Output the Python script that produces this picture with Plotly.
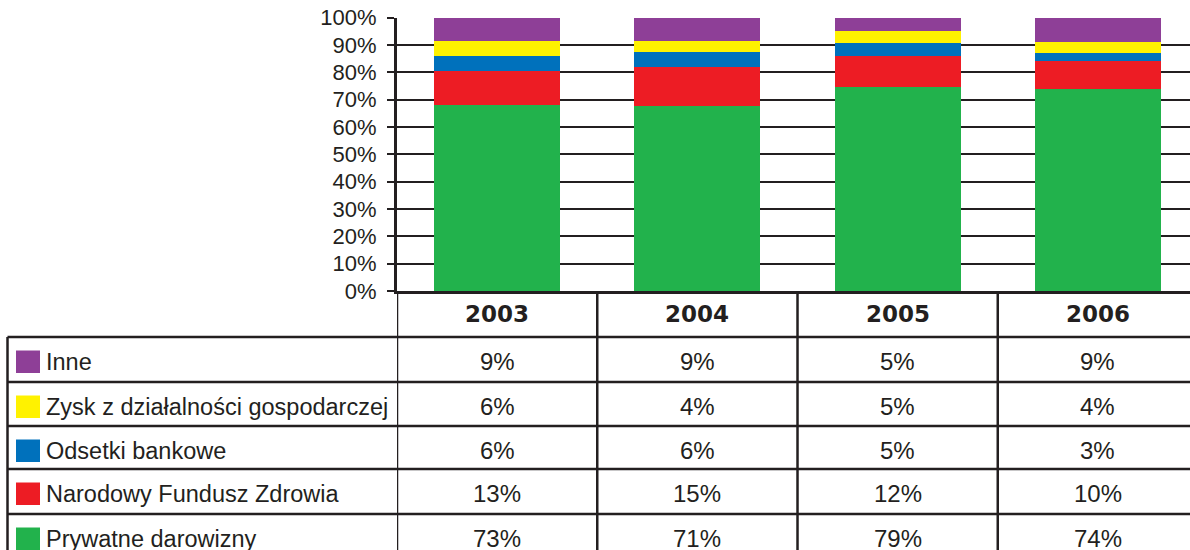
import plotly.graph_objects as go

# -----------------------------------------------------
# 데이터
# -----------------------------------------------------
years = ['2003', '2004', '2005', '2006']
series_names = ['Prywatne darowizny', 'Narodowy Fundusz Zdrowia', 'Odsetki bankowe',
                'Zysk z działalności gospodarczej', 'Inne']
prywatne = [73, 71, 79, 74]
nfz = [13, 15, 12, 10]
odsetki = [6, 6, 5, 3]
zysk = [6, 4, 5, 4]
inne = [9, 9, 5, 9]
colors = ['#22b24c', '#ed1c24', '#0071bc', '#fff200', '#8e3f97']
y_ticks = list(range(0, 101, 10))

values = [prywatne, nfz, odsetki, zysk, inne]

W, H = 1190, 550
INK = '#231f20'


def py(pix):
    """pixel row -> paper y"""
    return 1 - pix / H


def px_(pix):
    return pix / W


fig = go.Figure()
for name, vals, col in zip(series_names, values, colors):
    fig.add_trace(go.Bar(x=years, y=vals, name=name, marker_color=col,
                         marker_line_width=0, hoverinfo='name+y'))

fig.update_layout(
    width=W, height=H, barmode='stack', barnorm='percent', bargap=0.37,
    showlegend=False, plot_bgcolor='white', paper_bgcolor='white',
    margin=dict(l=0, r=0, t=0, b=0),
    font=dict(family='Liberation Sans, Arial, sans-serif', color=INK),
)
fig.update_xaxes(type='category', domain=[px_(397), 1], range=[-0.5, 3.46],
                 showticklabels=False, showline=True, linecolor=INK, linewidth=3,
                 ticks='', showgrid=False, automargin=False, fixedrange=True)
fig.update_yaxes(domain=[py(291), py(17.7)], range=[0, 100], tickvals=y_ticks,
                 ticktext=[f'{t}%' for t in y_ticks], ticks='outside', ticklen=7,
                 tickwidth=2, tickcolor=INK, showline=True, linecolor=INK, linewidth=3,
                 showgrid=True, gridcolor=INK, gridwidth=2, zeroline=False,
                 tickfont=dict(size=22, color=INK), ticklabelstandoff=6,
                 automargin=False, fixedrange=True)

# -----------------------------------------------------
# 표 (데이터 테이블)
# -----------------------------------------------------
row_lines = [337, 382, 426, 469, 514]
row_h = 44
bottom = 560
lw = 2.5

shapes = []
for yl in row_lines:
    shapes.append(dict(type='line', xref='paper', yref='paper', x0=px_(7.5), x1=1,
                       y0=py(yl), y1=py(yl), line=dict(color=INK, width=lw)))
# 세로선
shapes.append(dict(type='line', xref='paper', yref='paper', x0=px_(7.5), x1=px_(7.5),
                   y0=py(337), y1=py(bottom), line=dict(color=INK, width=lw)))
for xv in [-0.5, 0.5, 1.5, 2.5]:
    shapes.append(dict(type='line', xref='x', yref='paper', x0=xv, x1=xv,
                       y0=py(291), y1=py(bottom), line=dict(color=INK, width=lw)))

annotations = []
# 헤더 (연도)
for i, yr in enumerate(years):
    annotations.append(dict(x=i, xref='x', y=py(314), yref='paper', text=f'<b>{yr}</b>',
                            showarrow=False, xanchor='center', yanchor='middle',
                            font=dict(family='DejaVu Sans', size=23, color=INK)))

# 행: 위에서부터 Inne ... Prywatne
table_order = list(range(len(series_names)))[::-1]
for r, si in enumerate(table_order):
    yc = row_lines[r] + row_h / 2
    shapes.append(dict(type='rect', xref='paper', yref='paper',
                       x0=px_(16), x1=px_(40), y0=py(yc - 8.5), y1=py(yc + 14),
                       fillcolor=colors[si], line=dict(width=0)))
    annotations.append(dict(x=px_(44), xref='paper', y=py(yc + 3), yref='paper',
                            text=series_names[si], showarrow=False, xanchor='left',
                            yanchor='middle', font=dict(size=23.5, color=INK)))
    for i, v in enumerate(values[si]):
        annotations.append(dict(x=i, xref='x', y=py(yc + 2), yref='paper', text=f'{v}%',
                                showarrow=False, xanchor='center', yanchor='middle',
                                font=dict(size=24, color=INK)))

fig.update_layout(shapes=shapes, annotations=annotations)
fig.write_html('out.html', config={'displayModeBar': False},
               post_script="document.body.style.margin='0';")
